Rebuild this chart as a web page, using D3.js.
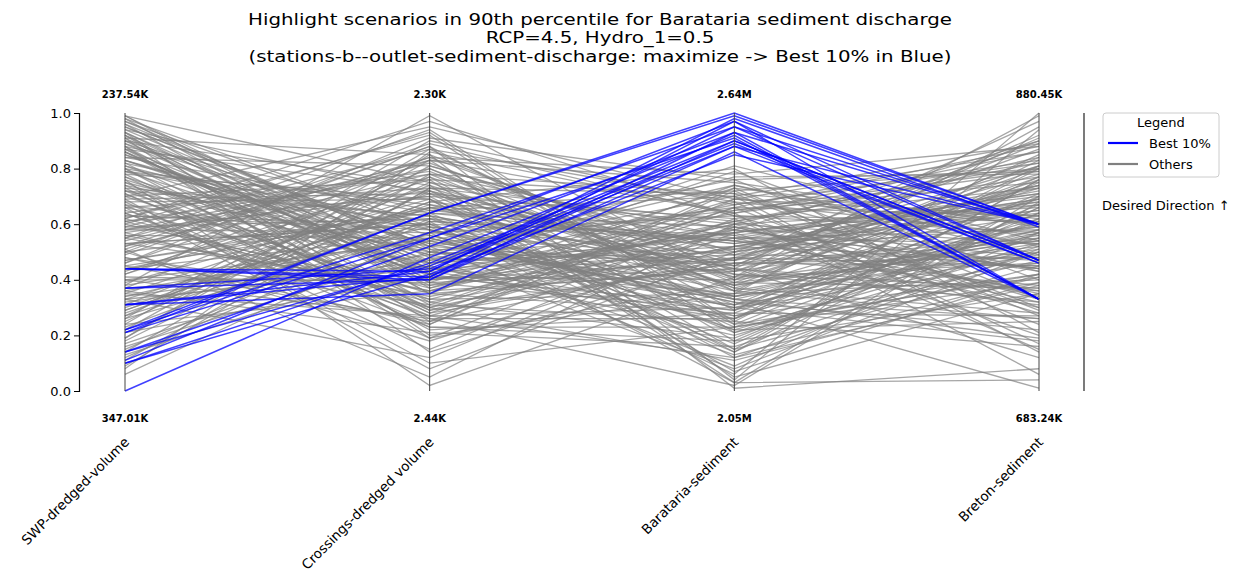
<!DOCTYPE html>
<html>
<head>
<meta charset="utf-8">
<script src="https://cdn.jsdelivr.net/npm/d3@7"></script>
<style>
  body { margin: 0; background: #fff; }
  svg { font-family: "DejaVu Sans", sans-serif; }
</style>
</head>
<body>
<div id="vis"></div>
<script>
let W = 1241; // width
let H = 573;  // height

// axis names and the min / max labels printed above and below each axis
let dims = ['SWP-dredged-volume', 'Crossings-dredged volume', 'Barataria-sediment', 'Breton-sediment'];
let topLabels = ['237.54K', '2.30K', '2.64M', '880.45K'];
let bottomLabels = ['347.01K', '2.44K', '2.05M', '683.24K'];
let yTicks = [0, 0.2, 0.4, 0.6, 0.8, 1.0];

// normalized values (as plotted) for the scenarios outside the best 10%
let swpOthers = [0.99, 0.42, 0.87, 0.63, 0.18, 0.91, 0.55, 0.74, 0.33, 0.96, 0.68, 0.27, 0.81, 0.49, 0.12, 0.92, 0.58, 0.71, 0.38, 0.84,
	0.23, 0.65, 0.97, 0.46, 0.77, 0.31, 0.89, 0.53, 0.08, 0.72, 0.61, 0.94, 0.36, 0.79, 0.44, 0.26, 0.86, 0.57, 0.67, 0.15,
	0.93, 0.51, 0.75, 0.29, 0.83, 0.62, 0.40, 0.98, 0.70, 0.21, 0.88, 0.47, 0.59, 0.34, 0.80, 0.66, 0.06, 0.90, 0.54, 0.78,
	0.39, 0.85, 0.60, 0.24, 0.73, 0.95, 0.50, 0.64, 0.32, 0.82, 0.45, 0.69, 0.17, 0.91, 0.56, 0.76, 0.28, 0.87, 0.52, 0.63,
	0.41, 0.99, 0.35, 0.74, 0.58, 0.13, 0.84, 0.48, 0.70, 0.26, 0.93, 0.61, 0.37, 0.80, 0.55, 0.22, 0.89, 0.66, 0.43, 0.77,
	0.30, 0.86, 0.50, 0.72, 0.09, 0.96, 0.59, 0.38, 0.83, 0.64, 0.19, 0.90, 0.53, 0.68, 0.33, 0.79, 0.46, 0.92, 0.57, 0.25,
	0.81, 0.62, 0.40, 0.88, 0.71, 0.14, 0.75, 0.51, 0.94, 0.36, 0.97, 0.62, 0.35, 0.85, 0.48, 0.72, 0.19, 0.93, 0.56, 0.80,
	0.42, 0.67, 0.88, 0.29, 0.76, 0.53, 0.98, 0.37, 0.64, 0.83, 0.11, 0.70, 0.45, 0.91, 0.58, 0.33, 0.78, 0.61, 0.95, 0.24,
	0.86, 0.50, 0.73, 0.40, 0.90, 0.66, 0.27, 0.82, 0.55, 0.99, 0.44, 0.69, 0.16, 0.87, 0.60, 0.34, 0.79, 0.52, 0.92, 0.47];
let crossOthers = [0.46, 0.83, 0.31, 0.58, 0.72, 0.39, 0.94, 0.27, 0.66, 0.52, 0.19, 0.77, 0.43, 0.88, 0.61, 0.35, 0.70, 0.24, 0.55, 0.81,
	0.64, 0.37, 0.50, 0.91, 0.29, 0.74, 0.42, 0.60, 0.86, 0.33, 0.78, 0.48, 0.21, 0.67, 0.56, 0.90, 0.38, 0.72, 0.15, 0.62,
	0.45, 0.84, 0.30, 0.68, 0.53, 0.97, 0.26, 0.59, 0.76, 0.41, 0.32, 0.65, 0.87, 0.49, 0.22, 0.73, 0.57, 0.40, 0.82, 0.28,
	0.69, 0.44, 0.93, 0.36, 0.63, 0.51, 0.18, 0.79, 0.47, 0.58, 0.25, 0.71, 0.54, 0.85, 0.34, 0.02, 0.66, 0.43, 0.89, 0.60,
	0.39, 0.75, 0.27, 0.52, 0.80, 0.48, 0.64, 0.31, 0.95, 0.57, 0.20, 0.70, 0.45, 0.61, 0.36, 0.83, 0.54, 0.08, 0.77, 0.42,
	0.67, 0.29, 0.88, 0.50, 0.73, 0.35, 0.62, 0.99, 0.46, 0.23, 0.81, 0.56, 0.38, 0.69, 0.12, 0.59, 0.84, 0.44, 0.30, 0.75,
	0.53, 0.92, 0.40, 0.65, 0.26, 0.78, 0.49, 0.05, 0.71, 0.55, 0.58, 0.33, 0.71, 0.47, 0.24, 0.63, 0.85, 0.40, 0.55, 0.30,
	0.76, 0.51, 0.19, 0.68, 0.42, 0.60, 0.37, 0.80, 0.27, 0.49, 0.73, 0.35, 0.62, 0.14, 0.57, 0.44, 0.69, 0.32, 0.52, 0.87,
	0.39, 0.64, 0.23, 0.54, 0.74, 0.46, 0.61, 0.28, 0.83, 0.41, 0.66, 0.10, 0.50, 0.72, 0.36, 0.59, 0.44, 0.78, 0.25, 0.63];
let barOthers = [0.52, 0.18, 0.66, 0.34, 0.47, 0.73, 0.25, 0.58, 0.41, 0.09, 0.62, 0.37, 0.79, 0.29, 0.55, 0.44, 0.14, 0.69, 0.32, 0.50,
	0.21, 0.60, 0.39, 0.76, 0.46, 0.03, 0.57, 0.27, 0.64, 0.35, 0.71, 0.43, 0.16, 0.53, 0.30, 0.67, 0.48, 0.23, 0.59, 0.38,
	0.81, 0.45, 0.11, 0.56, 0.33, 0.63, 0.26, 0.49, 0.70, 0.40, 0.19, 0.54, 0.36, 0.74, 0.28, 0.61, 0.06, 0.51, 0.42, 0.65,
	0.31, 0.57, 0.24, 0.68, 0.45, 0.13, 0.52, 0.37, 0.77, 0.22, 0.48, 0.60, 0.34, 0.01, 0.55, 0.41, 0.72, 0.27, 0.63, 0.17,
	0.44, 0.58, 0.30, 0.66, 0.39, 0.08, 0.53, 0.25, 0.69, 0.47, 0.35, 0.62, 0.20, 0.56, 0.43, 0.75, 0.32, 0.50, 0.15, 0.64,
	0.38, 0.59, 0.04, 0.46, 0.71, 0.28, 0.54, 0.40, 0.67, 0.23, 0.49, 0.33, 0.61, 0.12, 0.57, 0.42, 0.78, 0.29, 0.52, 0.36,
	0.65, 0.21, 0.47, 0.70, 0.02, 0.55, 0.31, 0.60, 0.44, 0.26, 0.36, 0.61, 0.24, 0.50, 0.72, 0.15, 0.43, 0.58, 0.30, 0.66,
	0.05, 0.47, 0.39, 0.80, 0.26, 0.54, 0.69, 0.33, 0.12, 0.57, 0.41, 0.74, 0.22, 0.48, 0.63, 0.35, 0.07, 0.52, 0.45, 0.68,
	0.29, 0.59, 0.18, 0.76, 0.40, 0.55, 0.03, 0.46, 0.64, 0.31, 0.51, 0.23, 0.70, 0.38, 0.60, 0.14, 0.49, 0.34, 0.73, 0.44];
let breOthers = [0.72, 0.35, 0.88, 0.51, 0.63, 0.27, 0.80, 0.44, 0.99, 0.57, 0.15, 0.69, 0.40, 0.83, 0.53, 0.31, 0.76, 0.60, 0.22, 0.90,
	0.47, 0.66, 0.37, 0.79, 0.55, 0.04, 0.71, 0.42, 0.86, 0.58, 0.29, 0.74, 0.50, 0.65, 0.18, 0.82, 0.45, 0.61, 0.34, 0.77,
	0.54, 0.92, 0.39, 0.68, 0.26, 0.57, 0.81, 0.48, 0.14, 0.73, 0.62, 0.36, 0.85, 0.52, 0.70, 0.43, 1.00, 0.59, 0.32, 0.75,
	0.49, 0.20, 0.67, 0.56, 0.89, 0.41, 0.64, 0.28, 0.78, 0.53, 0.38, 0.84, 0.60, 0.08, 0.71, 0.46, 0.80, 0.55, 0.33, 0.66,
	0.91, 0.44, 0.58, 0.24, 0.76, 0.50, 0.69, 0.16, 0.63, 0.87, 0.40, 0.73, 0.52, 0.30, 0.81, 0.59, 0.01, 0.67, 0.45, 0.79,
	0.56, 0.35, 0.94, 0.48, 0.62, 0.27, 0.74, 0.54, 0.83, 0.42, 0.65, 0.19, 0.77, 0.51, 0.70, 0.37, 0.88, 0.61, 0.47, 0.26,
	0.80, 0.57, 0.97, 0.43, 0.68, 0.32, 0.75, 0.53, 0.12, 0.64, 0.55, 0.82, 0.41, 0.68, 0.30, 0.76, 0.59, 0.90, 0.46, 0.63,
	0.35, 0.78, 0.52, 0.21, 0.71, 0.44, 0.86, 0.57, 0.38, 0.67, 0.80, 0.49, 0.25, 0.74, 0.61, 0.95, 0.42, 0.69, 0.54, 0.17,
	0.77, 0.48, 0.64, 0.33, 0.84, 0.58, 0.70, 0.45, 0.06, 0.62, 0.73, 0.39, 0.89, 0.53, 0.28, 0.66, 0.81, 0.50, 0.60, 0.36];

// normalized values for the best 10% (blue)
let swpBest = [0.44, 0.44, 0.37, 0.37, 0.31, 0.31, 0.22, 0.22, 0.21, 0.14, 0.14, 0.11, 0.10, 0.10, 0.00, 0.44, 0.31, 0.21];
let crossBest = [0.43, 0.41, 0.40, 0.44, 0.41, 0.35, 0.64, 0.57, 0.55, 0.52, 0.45, 0.55, 0.46, 0.42, 0.48, 0.40, 0.43, 0.64];
let barBest = [0.95, 0.90, 0.93, 0.88, 0.97, 0.86, 1.00, 0.95, 0.91, 0.93, 0.89, 0.97, 0.90, 0.85, 0.92, 0.88, 0.98, 0.99];
let breBest = [0.60, 0.47, 0.33, 0.60, 0.47, 0.33, 0.60, 0.47, 0.33, 0.60, 0.46, 0.33, 0.47, 0.60, 0.33, 0.46, 0.59, 0.60];

// Build rows from the per-axis arrays
let others = swpOthers.map((d, i) => [d, crossOthers[i], barOthers[i], breOthers[i]]);
let best = swpBest.map((d, i) => [d, crossBest[i], barBest[i], breBest[i]]);

let svg = d3.select('#vis').append('svg').attr('width', W).attr('height', H);

let xScale = d3.scalePoint().domain(dims).range([125, 1039]);
let yScale = d3.scaleLinear().domain([0, 1]).range([391, 113]);

let line = d3.line().x((d, i) => xScale(dims[i])).y(d => yScale(d));

// Title (the reference glyphs are a little wider than plain DejaVu)
let title = ['Highlight scenarios in 90th percentile for Barataria sediment discharge',
	'RCP=4.5, Hydro_1=0.5',
	'(stations-b--outlet-sediment-discharge: maximize -> Best 10% in Blue)'];
svg.append('g').attr('transform', 'translate(600, 0) scale(1.2, 1)')
		.selectAll('text').data(title).enter().append('text')
		.attr('x', 0)
		.attr('y', (d, i) => 25 + i * 18.5)
		.attr('text-anchor', 'middle')
		.attr('font-size', 16.5)
		.text(d => d);

// Gray lines first, blue on top
svg.append('g').selectAll('path').data(others).enter().append('path')
		.attr('d', line)
		.attr('fill', 'none')
		.attr('stroke', 'gray')
		.attr('stroke-opacity', 0.7)
		.attr('stroke-width', 1.3);

svg.append('g').selectAll('path').data(best).enter().append('path')
		.attr('d', line)
		.attr('fill', 'none')
		.attr('stroke', 'blue')
		.attr('stroke-opacity', 0.75)
		.attr('stroke-width', 1.5);

// Vertical axis lines for each dimension
svg.append('g').selectAll('line').data(dims).enter().append('line')
		.attr('x1', d => xScale(d)).attr('x2', d => xScale(d))
		.attr('y1', yScale(0)).attr('y2', yScale(1))
		.attr('stroke', '#444').attr('stroke-width', 1);

// Max / min labels
svg.append('g').selectAll('text').data(topLabels).enter().append('text')
		.attr('x', (d, i) => xScale(dims[i]))
		.attr('y', 98)
		.attr('text-anchor', 'middle')
		.attr('font-size', 10)
		.attr('font-weight', 'bold')
		.text(d => d);

svg.append('g').selectAll('text').data(bottomLabels).enter().append('text')
		.attr('x', (d, i) => xScale(dims[i]))
		.attr('y', 422)
		.attr('text-anchor', 'middle')
		.attr('font-size', 10)
		.attr('font-weight', 'bold')
		.text(d => d);

// Rotated axis names
svg.append('g').selectAll('text').data(dims).enter().append('text')
		.attr('transform', d => `translate(${xScale(d) + 5}, ${443}) rotate(-45)`)
		.attr('text-anchor', 'end')
		.attr('font-size', 13.5)
		.text(d => d);

// Left y axis
let yAxis = svg.append('g').attr('transform', `translate(${79}, 0)`)
		.call(d3.axisLeft(yScale).tickValues(yTicks).tickFormat(d3.format('.1f')).tickSizeOuter(0).tickSize(5));
yAxis.selectAll('text').attr('font-size', 13).attr('font-family', 'DejaVu Sans').attr('fill', '#000');
yAxis.select('.domain').attr('stroke', '#000').attr('stroke-width', 1.2);

// Right direction bar
svg.append('line')
		.attr('x1', 1084).attr('x2', 1084)
		.attr('y1', yScale(0)).attr('y2', yScale(1))
		.attr('stroke', '#333').attr('stroke-width', 1.3);

// Legend
let legend = svg.append('g').attr('transform', 'translate(1103, 113)');
legend.append('rect')
		.attr('width', 116).attr('height', 64)
		.attr('rx', 3)
		.attr('fill', '#fff').attr('stroke', '#ccc');
legend.append('text').attr('x', 58).attr('y', 14).attr('text-anchor', 'middle').attr('font-size', 13).text('Legend');
let items = [{name: 'Best 10%', color: 'blue'}, {name: 'Others', color: 'gray'}];
let li = legend.selectAll('.item').data(items).enter().append('g')
		.attr('transform', (d, i) => `translate(0, ${30 + i * 21})`);
li.append('line').attr('x1', 5).attr('x2', 35).attr('stroke', d => d.color).attr('stroke-width', 2.2);
li.append('text').attr('x', 46).attr('y', 5).attr('font-size', 13).text(d => d.name);

svg.append('text').attr('x', 1102).attr('y', 210).attr('font-size', 13).text('Desired Direction ↑');
</script>
</body>
</html>
